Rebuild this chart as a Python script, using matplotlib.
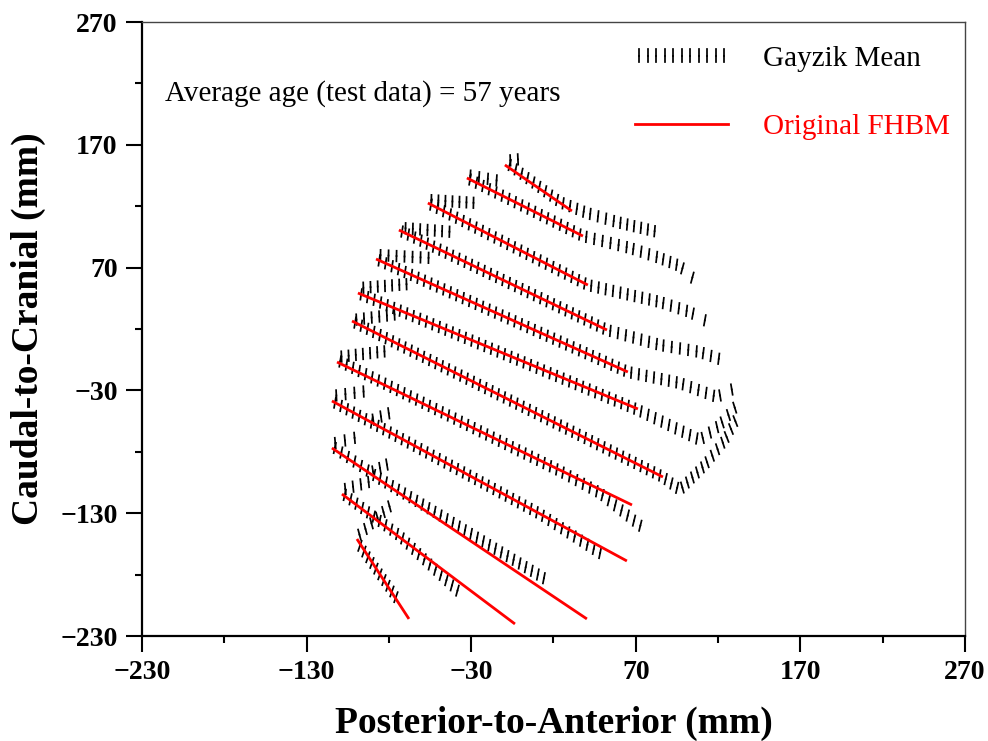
import numpy as np
import matplotlib
matplotlib.use('Agg')
import matplotlib.pyplot as plt
from matplotlib import patheffects as pe
from matplotlib.lines import Line2D

plt.rcParams['font.family'] = ['Liberation Serif', 'DejaVu Serif']

# ---------------- data ----------------
# Original FHBM ribs (straight red lines): [start, end]
fhbm_x = [[-9.5, 31.2], [-32.6, 37.9], [-56.3, 40.9], [-73.9, 52.5],
          [-87.8, 65.2], [-98.8, 71.3], [-102.4, 86.5], [-111.5, 67.7],
          [-114.6, 64.6], [-114.6, 40.3], [-108.5, -3.4], [-99.4, -67.8]]
fhbm_y = [[153.6, 116.1], [143.0, 95.7], [122.6, 55.8], [100.6, 19.2],
          [77.0, -15.0], [49.3, -45.1], [26.5, -100.5], [-6.9, -123.3],
          [-38.6, -168.9], [-76.9, -216.1], [-114.4, -220.2], [-151.0, -216.1]]

# Gayzik mean ribs: shaft polylines
gay_x = [[-8.3, 23.9, 40.3, 58.6, 83.5],
         [-32.6, 37.9, 66.5, 84.7, 96.8, 105.9],
         [-56.3, 40.9, 84.7, 102.9, 113.8],
         [-73.9, 52.5, 84.7, 109.0, 122.4],
         [-87.8, 65.2, 96.8, 119.3, 130.2],
         [-98.8, 71.3, 109.0, 121.1, 131.5],
         [-102.4, 86.5, 96.8, 112.0, 124.2, 131.5],
         [-111.5, 23.9, 48.2, 74.4],
         [-114.6, 11.8, 50.1],
         [-114.6, -87.2, 16.0],
         [-108.5, -73.3, -36.8],
         [-98.8, -74.5]]
gay_y = [[155.2, 123.4, 114.5, 107.1, 99.0],
         [143.0, 95.7, 86.0, 77.8, 71.3, 59.9],
         [122.6, 55.8, 42.0, 33.9, 25.7],
         [100.6, 19.2, 7.0, 1.3, -5.2],
         [77.0, -15.0, -24.0, -35.4, -28.0],
         [49.3, -45.9, -70.4, -58.2, -41.9],
         [26.5, -100.5, -111.1, -90.7, -70.4, -52.5],
         [-5.2, -95.6, -113.5, -142.0],
         [-38.6, -130.6, -164.0],
         [-75.3, -100.5, -184.4],
         [-113.5, -148.6, -195.0],
         [-154.3, -200.7]]

# Gayzik mean ribs: posterior neck segments
neck_x = [[-8.3, 0.5], [-32.6, -12.5], [-56.3, -26.5], [-72.0, -41.1],
          [-87.2, -53.8], [-97.6, -67.2], [-101.8, -74.5], [-110.9, -80.6],
          [-114.0, -93.3], [-91.5, -78.1], [-114.6, -98.8], [-91.5, -79.3],
          [-108.5, -90.3], [-99.4, -78.1]]
neck_y = [[157.0, 158.5], [145.4, 140.5], [125.1, 122.6], [102.3, 99.0],
          [80.3, 77.8], [53.4, 56.7], [27.3, 32.2], [-2.8, 2.1],
          [-34.5, -30.5], [-54.9, -47.6], [-73.6, -67.9], [-97.3, -89.1],
          [-111.1, -103.8], [-149.4, -122.5]]

major_ticks = [-230, -130, -30, 70, 170, 270]
minor_ticks = [-180, -80, 20, 120, 220]

# ---------------- figure ----------------
fig = plt.figure(figsize=(9.88, 7.41), dpi=100)
ax = fig.add_axes([0.1437, 0.1417, 0.833, 0.8286])
ax.set_xlim(-230, 270)
ax.set_ylim(-230, 270)

TICK_SP = 5.0
TICK_LEN = 0.76
TICK_LW = 1.25


def tick_effects(phi):
    alpha = 90 + 0.35 * phi
    rel = alpha - phi
    return [pe.TickedStroke(spacing=TICK_SP, angle=rel, length=TICK_LEN, linewidth=TICK_LW),
            pe.TickedStroke(spacing=TICK_SP, angle=rel + 180, length=TICK_LEN, linewidth=TICK_LW)]


def draw_ticked(xs, ys):
    pts = ax.transData.transform(np.column_stack([xs, ys]))
    for i in range(len(xs) - 1):
        x0, x1 = xs[i], xs[i + 1]
        y0, y1 = ys[i], ys[i + 1]
        p0, p1 = pts[i], pts[i + 1]
        if p1[0] < p0[0]:
            x0, x1, y0, y1 = x1, x0, y1, y0
            p0, p1 = p1, p0
        phi = np.degrees(np.arctan2(p1[1] - p0[1], p1[0] - p0[0]))
        ax.plot([x0, x1], [y0, y1], color='black', lw=TICK_LW,
                path_effects=tick_effects(phi))


for xs, ys in zip(gay_x, gay_y):
    draw_ticked(xs, ys)
for xs, ys in zip(neck_x, neck_y):
    draw_ticked(xs, ys)

for xs, ys in zip(fhbm_x, fhbm_y):
    ax.plot(xs, ys, color='red', lw=2.0, solid_capstyle='butt')

# axes styling
ax.set_xticks(major_ticks)
ax.set_xticks(minor_ticks, minor=True)
ax.set_yticks(major_ticks)
ax.set_yticks(minor_ticks, minor=True)
ax.tick_params(which='both', direction='out', top=False, right=False,
               width=1.5, color='black')
ax.tick_params(which='major', length=11.5, pad=6, labelsize=20)
ax.tick_params(which='minor', length=5)
for lab in ax.get_xticklabels() + ax.get_yticklabels():
    lab.set_fontweight('bold')

for s in ['left', 'bottom']:
    ax.spines[s].set_linewidth(1.6)
    ax.spines[s].set_color('black')
for s in ['top', 'right']:
    ax.spines[s].set_linewidth(1.0)
    ax.spines[s].set_color('#444444')

ax.set_xlabel('Posterior-to-Anterior (mm)', fontsize=27, fontweight='bold', labelpad=15)
ax.set_ylabel('Caudal-to-Cranial (mm)', fontsize=27, fontweight='bold', labelpad=10)

ax.text(-216.0, 205.7, 'Average age (test data) = 57 years', fontsize=21,
        va='baseline', ha='left')

gay_handle = Line2D([], [], color='black', lw=TICK_LW,
                    path_effects=[pe.TickedStroke(spacing=5.8, angle=90, length=0.8, linewidth=TICK_LW),
                                  pe.TickedStroke(spacing=5.8, angle=-90, length=0.8, linewidth=TICK_LW)])
red_handle = Line2D([], [], color='red', lw=2.0)
leg = ax.legend([gay_handle, red_handle], ['Gayzik Mean', 'Original FHBM'],
                loc='upper left', bbox_to_anchor=(0.599, 0.962), frameon=False,
                fontsize=21, handlelength=3.2, handletextpad=1.2,
                labelspacing=1.45, borderpad=0, borderaxespad=0)
leg.get_texts()[1].set_color('red')

fig.savefig('out.png', dpi=100)
